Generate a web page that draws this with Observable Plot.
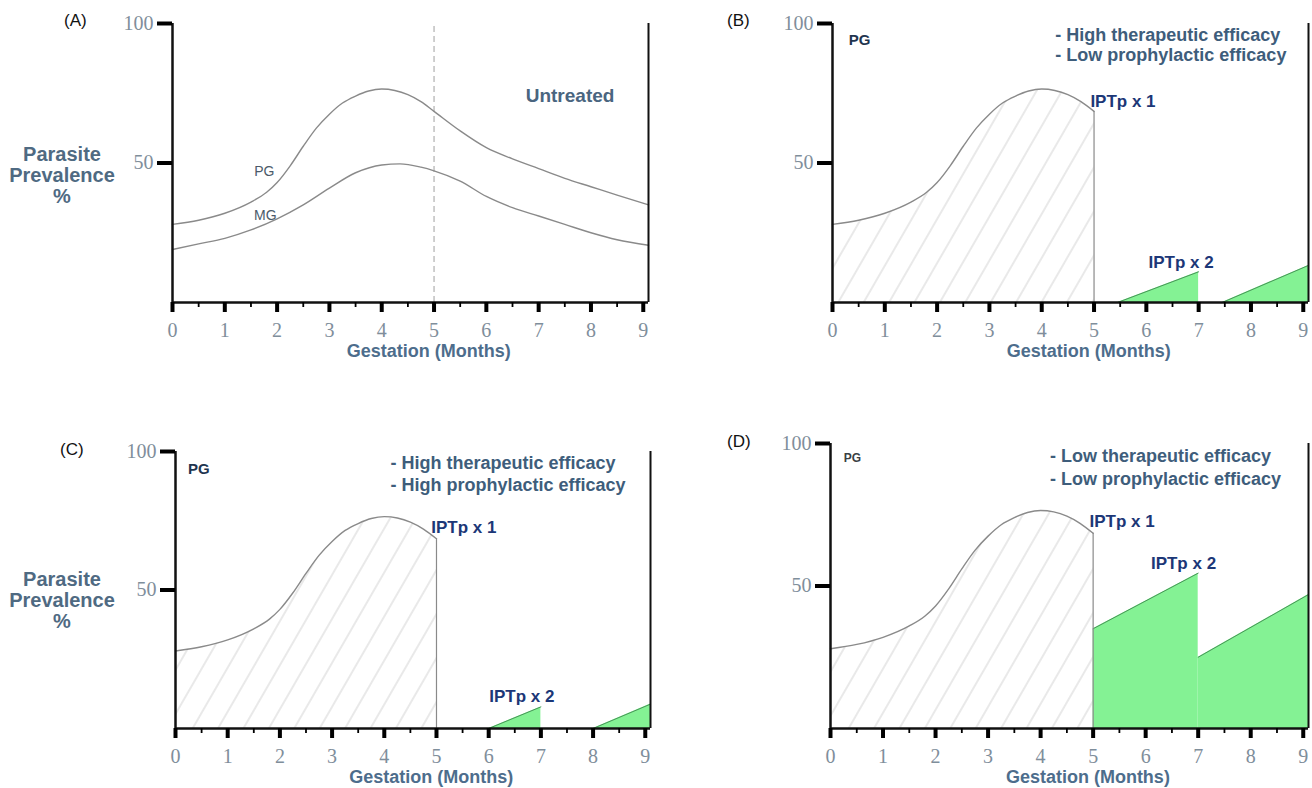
<!DOCTYPE html>
<html>
<head>
<meta charset="utf-8">
<script src="https://cdn.jsdelivr.net/npm/d3@7"></script>
<script src="https://cdn.jsdelivr.net/npm/@observablehq/plot@0.6"></script>
<style>
  html, body { margin: 0; padding: 0; background: #fff; }
  body { width: 1312px; height: 788px; position: relative; overflow: hidden; font-family: 'Liberation Sans', Arial, sans-serif; }
  .panel { position: absolute; }
  .tag { position: absolute; font-size: 17px; color: #111; line-height: 20px; }
  .ylab { position: absolute; width: 124px; text-align: center; font-weight: bold; font-size: 20px; line-height: 21px; color: #4f6a82; }
</style>
</head>
<body>
<svg width="0" height="0" style="position:absolute">
  <defs>
    <pattern id="hatch" patternUnits="userSpaceOnUse" width="22" height="22" patternTransform="rotate(30)">
      <line x1="1" y1="0" x2="1" y2="22" stroke="#d6d6d6" stroke-width="1.1"></line>
    </pattern>
  </defs>
</svg>

<div class="tag" style="left:64px; top:11px">(A)</div>
<div class="tag" style="left:727px; top:11px">(B)</div>
<div class="tag" style="left:60px; top:440px">(C)</div>
<div class="tag" style="left:727px; top:432px">(D)</div>
<div class="ylab" style="left:0px; top:144px">Parasite<br>Prevalence<br>%</div>
<div class="ylab" style="left:0px; top:569px">Parasite<br>Prevalence<br>%</div>

<div id="pA" class="panel" style="left:0px; top:0px"></div>
<div id="pB" class="panel" style="left:656px; top:0px"></div>
<div id="pC" class="panel" style="left:0px; top:400px"></div>
<div id="pD" class="panel" style="left:656px; top:400px"></div>

<script>
// ---------------- data ----------------
const xMax = 9.1;
const monthTicks = [0, 1, 2, 3, 4, 5, 6, 7, 8, 9];
const halfMonthTicks = [0.5, 1.5, 2.5, 3.5, 4.5, 5.5, 6.5, 7.5, 8.5];
const prevalenceTicks = [50, 100];

// Primigravidae (PG), untreated
const pgMonths     = [0, 0.5, 1, 1.5, 1.8, 2, 2.25, 2.5, 2.75, 3, 3.25, 3.5, 3.75, 4, 4.25, 4.5, 4.75, 5, 5.5, 6, 6.5, 7, 7.5, 8, 8.5, 9.1];
const pgPrevalence = [28, 29.5, 32, 36, 39.5, 43, 49, 56, 62.5, 67.5, 71.5, 74, 75.8, 76.5, 76, 74.5, 72, 68.5, 61.5, 55.5, 51.5, 48, 44.5, 41.5, 38.5, 35];

// Multigravidae (MG), untreated
const mgMonths     = [0, 0.5, 1, 1.5, 2, 2.5, 3, 3.5, 4, 4.35, 4.75, 5, 5.5, 6, 6.5, 7, 7.5, 8, 8.5, 9.1];
const mgPrevalence = [19, 21, 23, 26, 30, 35, 41, 46.5, 49.3, 49.7, 48.5, 47.2, 43.5, 38, 34, 31, 28, 25, 22.5, 20.5];

const ipt1Month = 5;

// post-IPTp prevalence (green), panels B, C, D
const greenBMonths = [5.45, 7, 7.45, 9.1];
const greenBPrevalence = [0, 11, 0, 13.3];
const greenBSegment = [1, 1, 2, 2];

const greenCMonths = [6, 7, 8, 9.1];
const greenCPrevalence = [0, 7.8, 0, 8.8];
const greenCSegment = [1, 1, 2, 2];

const greenDMonths = [5, 7, 7, 9.1];
const greenDPrevalence = [35, 54.5, 25, 47];
const greenDSegment = [1, 1, 2, 2];

// text labels (anchored in data units)
const legendB = ["- High therapeutic efficacy", "- Low prophylactic efficacy"];
const legendC = ["- High therapeutic efficacy", "- High prophylactic efficacy"];
const legendD = ["- Low therapeutic efficacy", "- Low prophylactic efficacy"];

// ---------------- helpers ----------------
const SERIF = "'Liberation Serif', 'Times New Roman', serif";
const SANS = "'Liberation Sans', Arial, sans-serif";
const GREEN = "#84f294";

const pg = pgMonths.map((m, i) => ({month: m, prev: pgPrevalence[i]}));
const mg = mgMonths.map((m, i) => ({month: m, prev: mgPrevalence[i]}));
const pgTreated = pg.filter(d => d.month <= ipt1Month);
const pgEnd = pgTreated[pgTreated.length - 1];
const toRows = (ms, ps, ss) => ms.map((m, i) => ({month: m, prev: ps[i], seg: ss[i]}));
const greenB = toRows(greenBMonths, greenBPrevalence, greenBSegment);
const greenC = toRows(greenCMonths, greenCPrevalence, greenCSegment);
const greenD = toRows(greenDMonths, greenDPrevalence, greenDSegment);

function frameMarks() {
  return [
    Plot.ruleY([0], {x1: 0, x2: xMax, stroke: "#111", strokeWidth: 2.5}),
    Plot.ruleX([0], {y1: 0, y2: 100, stroke: "#111", strokeWidth: 2.5}),
    Plot.ruleX([xMax], {y1: 0, y2: 100, stroke: "#111", strokeWidth: 2}),
    Plot.axisX(halfMonthTicks, {tickSize: 5, strokeWidth: 1.8, tickFormat: () => "", label: null}),
    Plot.axisX(monthTicks, {tickSize: 10, strokeWidth: 4, tickPadding: 10, fontSize: 20, fontFamily: SERIF, fill: "#7f8e9b", label: null}),
    Plot.axisY(prevalenceTicks, {tickSize: 15, strokeWidth: 4, tickPadding: 4, fontSize: 20, fontFamily: SERIF, fill: "#7f8e9b", label: null}),
    Plot.text([{label: "Gestation (Months)", month: 4.9}], {x: "month", text: "label", frameAnchor: "bottom", dy: 49, lineAnchor: "middle", fontSize: 18, fontWeight: "bold", fill: "#4d6d8c", fontFamily: SANS})
  ];
}

function legendMarks(lines, month, prevs) {
  return Plot.text(lines.map((t, i) => ({t, month, prev: prevs[i]})), {
    x: "month", y: "prev", text: "t", textAnchor: "start", lineAnchor: "middle",
    fontSize: 18, fontWeight: "bold", fill: "#3e5d7b", fontFamily: SANS
  });
}

function iptLabel(label, month, prev) {
  return Plot.text([{label, month, prev}], {
    x: "month", y: "prev", text: "label", textAnchor: "start", lineAnchor: "middle",
    fontSize: 17, fontWeight: "bold", fill: "#1c3777", fontFamily: SANS
  });
}

function treatedPG() {
  return [
    Plot.area(pgTreated, {x1: "month", y1: 0, y2: "prev", fill: "url(#hatch)", curve: "monotone-x"})
  ];
}
function treatedPGLine() {
  return [
    Plot.line(pgTreated, {x: "month", y: "prev", stroke: "#8a8a8a", strokeWidth: 1.4, curve: "monotone-x"}),
    Plot.ruleX([pgEnd], {x: "month", y1: 0, y2: "prev", stroke: "#8a8a8a", strokeWidth: 1.2})
  ];
}
function greenMarks(rows) {
  return [
    Plot.area(rows, {x1: "month", y1: 0, y2: "prev", z: "seg", fill: GREEN}),
    Plot.line(rows, {x: "month", y: "prev", z: "seg", stroke: "#3f8a50", strokeWidth: 0.9})
  ];
}

function makePlot(g, marks) {
  return Plot.plot({
    width: g.width, height: g.height,
    marginLeft: g.mL, marginRight: g.mR, marginTop: g.mT, marginBottom: g.mB,
    x: {domain: [0, xMax], label: null},
    y: {domain: [0, 100], label: null},
    style: {background: "transparent", overflow: "visible", fontFamily: SANS},
    marks
  });
}

// ---------------- panel A ----------------
document.getElementById("pA").append(makePlot(
  {width: 656, height: 390, mL: 172, mR: 8, mT: 23, mB: 88},
  [
    Plot.ruleX([ipt1Month], {y1: 0, y2: 100, stroke: "#b0b0b0", strokeWidth: 1.2, strokeDasharray: "6,4"}),
    Plot.line(pg, {x: "month", y: "prev", stroke: "#8a8a8a", strokeWidth: 1.4, curve: "monotone-x"}),
    Plot.line(mg, {x: "month", y: "prev", stroke: "#8a8a8a", strokeWidth: 1.4, curve: "monotone-x"}),
    Plot.text([{label: "PG", month: 1.95, prev: 47}, {label: "MG", month: 1.99, prev: 31.2}], {x: "month", y: "prev", text: "label", textAnchor: "end", lineAnchor: "middle", fontSize: 14, fontWeight: "500", fill: "#4b5a6a", fontFamily: SANS}),
    Plot.text([{label: "Untreated", month: 7.6, prev: 74}], {x: "month", y: "prev", text: "label", textAnchor: "middle", lineAnchor: "middle", fontSize: 19, fontWeight: "bold", fill: "#4a6580", fontFamily: SANS}),
    ...frameMarks()
  ]
));

// ---------------- panel B ----------------
document.getElementById("pB").append(makePlot(
  {width: 656, height: 390, mL: 176, mR: 4, mT: 23, mB: 88},
  [
    ...treatedPG(),
    ...greenMarks(greenB),
    ...treatedPGLine(),
    Plot.text([{label: "PG", month: 0.31, prev: 93.9}], {x: "month", y: "prev", text: "label", textAnchor: "start", lineAnchor: "middle", fontSize: 15, fontWeight: "bold", fill: "#1f354f", fontFamily: SANS}),
    legendMarks(legendB, 4.26, [95.7, 88.5]),
    iptLabel("IPTp x 1", 4.93, 72),
    iptLabel("IPTp x 2", 6.04, 14.3),
    ...frameMarks()
  ]
));

// ---------------- panel C ----------------
document.getElementById("pC").append(makePlot(
  {width: 656, height: 388, mL: 175, mR: 6, mT: 51, mB: 60},
  [
    ...treatedPG(),
    ...greenMarks(greenC),
    ...treatedPGLine(),
    Plot.text([{label: "PG", month: 0.24, prev: 93.5}], {x: "month", y: "prev", text: "label", textAnchor: "start", lineAnchor: "middle", fontSize: 15, fontWeight: "bold", fill: "#1f354f", fontFamily: SANS}),
    legendMarks(legendC, 4.12, [95.8, 88]),
    iptLabel("IPTp x 1", 4.9, 72.7),
    iptLabel("IPTp x 2", 6.01, 11.5),
    ...frameMarks()
  ]
));

// ---------------- panel D ----------------
document.getElementById("pD").append(makePlot(
  {width: 656, height: 388, mL: 174, mR: 4, mT: 43, mB: 60},
  [
    ...treatedPG(),
    ...greenMarks(greenD),
    ...treatedPGLine(),
    Plot.text([{label: "PG", month: 0.25, prev: 94.7}], {x: "month", y: "prev", text: "label", textAnchor: "start", lineAnchor: "middle", fontSize: 12, fontWeight: "bold", fill: "#3a3f45", fontFamily: SANS}),
    legendMarks(legendD, 4.18, [95.6, 87.5]),
    iptLabel("IPTp x 1", 4.93, 72.6),
    iptLabel("IPTp x 2", 6.1, 57.9),
    ...frameMarks()
  ]
));
</script>
</body>
</html>
